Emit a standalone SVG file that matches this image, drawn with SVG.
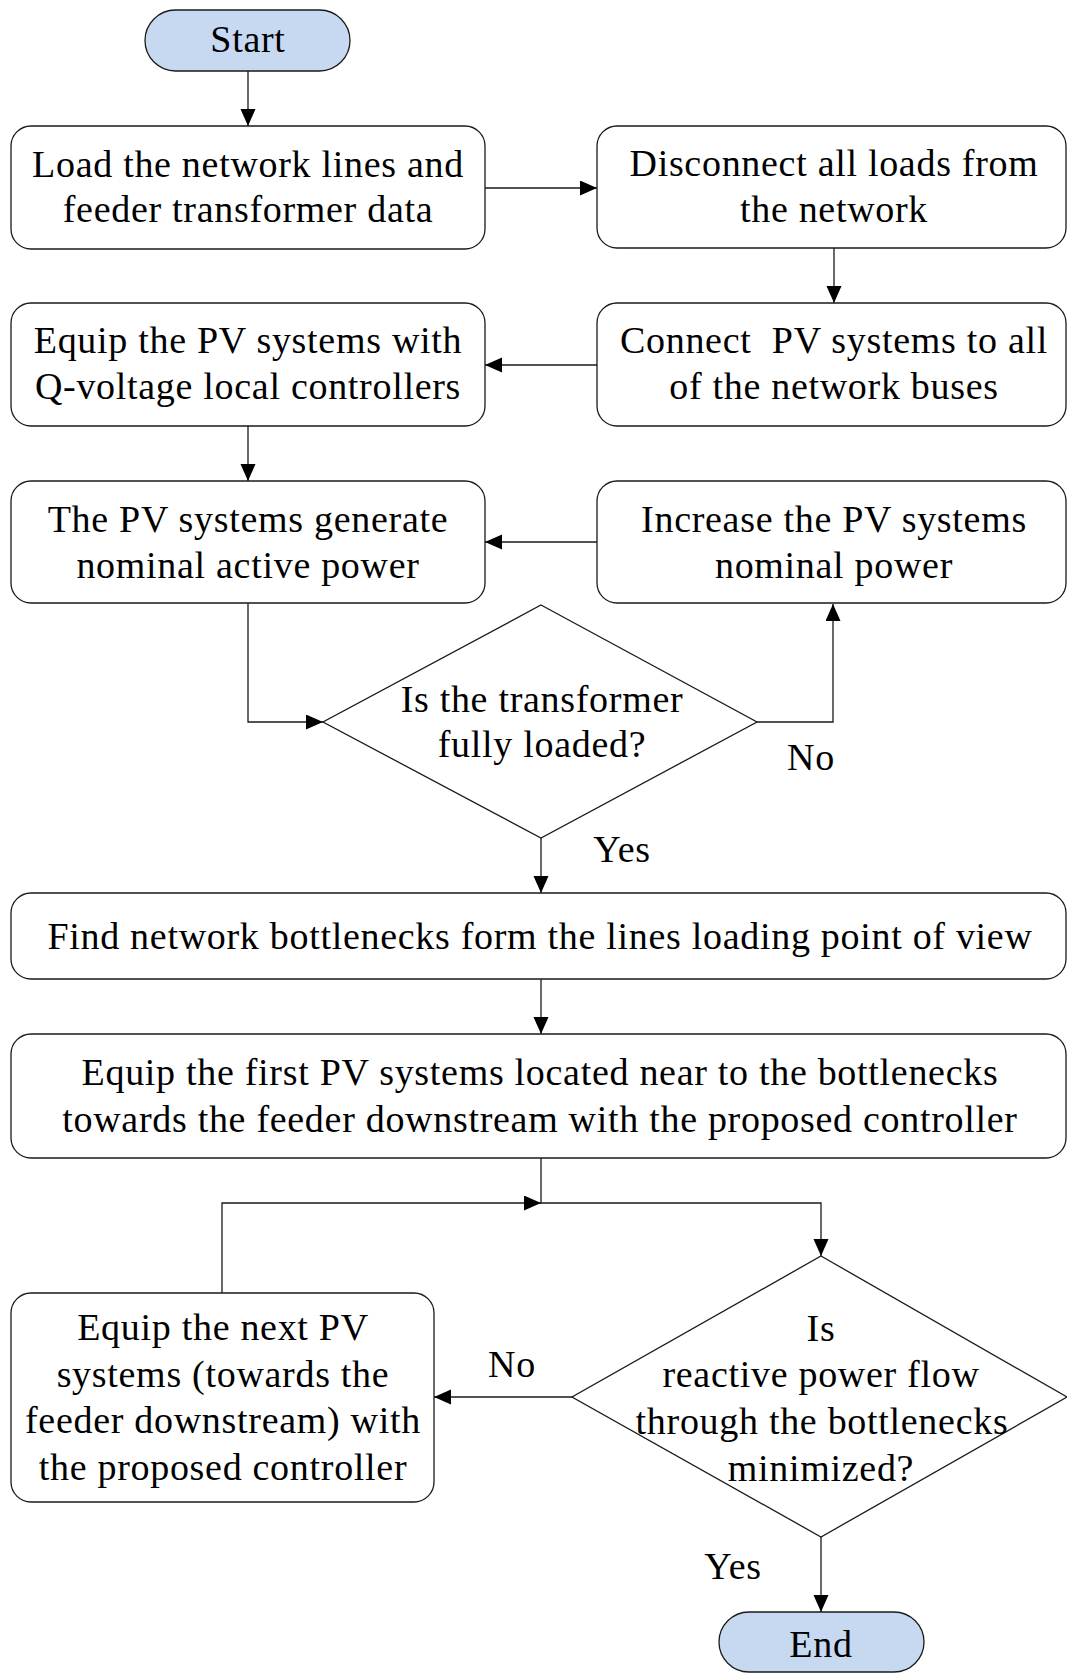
<svg xmlns="http://www.w3.org/2000/svg" width="1067" height="1673" viewBox="0 0 1067 1673">
  <defs>
    <style>
      .box { fill: #ffffff; stroke: #1a1a1a; stroke-width: 1.3; }
      .term { fill: #c6d9f0; stroke: #1a1a1a; stroke-width: 1.3; }
      .link { fill: none; stroke: #1a1a1a; stroke-width: 1.3; }
      text { font-family: "Liberation Serif", "Times New Roman", serif; font-size: 38px; fill: #000; text-anchor: middle; letter-spacing: 0.7px; }
    </style>
    <marker id="arrow" markerUnits="userSpaceOnUse" markerWidth="18" markerHeight="16" refX="17" refY="7.5" orient="auto">
      <path d="M0,0 L17,7.5 L0,15 z" fill="#000"/>
    </marker>
  </defs>
  <rect width="1067" height="1673" fill="#ffffff"/>

  <!-- connectors -->
  <g id="connectors">
    <path class="link" d="M248,71 V126" marker-end="url(#arrow)"/>
    <path class="link" d="M485,188 H597" marker-end="url(#arrow)"/>
    <path class="link" d="M834,248 V303" marker-end="url(#arrow)"/>
    <path class="link" d="M597,365 H485" marker-end="url(#arrow)"/>
    <path class="link" d="M248,426 V481" marker-end="url(#arrow)"/>
    <path class="link" d="M597,542 H485" marker-end="url(#arrow)"/>
    <path class="link" d="M248,603 V722 H323" marker-end="url(#arrow)"/>
    <path class="link" d="M757,722 H833 V604" marker-end="url(#arrow)"/>
    <path class="link" d="M541,838 V893" marker-end="url(#arrow)"/>
    <path class="link" d="M541,979 V1034" marker-end="url(#arrow)"/>
    <path class="link" d="M541,1158 V1203 H821 V1256" marker-end="url(#arrow)"/>
    <path class="link" d="M222,1293 V1203 H541" marker-end="url(#arrow)"/>
    <path class="link" d="M572,1397 H434" marker-end="url(#arrow)"/>
    <path class="link" d="M821,1537 V1612" marker-end="url(#arrow)"/>
    <text x="811" y="770">No</text>
    <text x="622" y="862">Yes</text>
    <text x="512" y="1377">No</text>
    <text x="733" y="1579">Yes</text>
  </g>

  <g id="start">
    <rect class="term" x="145" y="10" width="205" height="61" rx="30.5"/>
    <text x="248" y="52">Start</text>
  </g>

  <g id="load-data">
    <rect class="box" x="11" y="126" width="474" height="123" rx="20"/>
    <text x="248" y="177">Load the network lines and</text>
    <text x="248" y="222">feeder transformer data</text>
  </g>

  <g id="disconnect-loads">
    <rect class="box" x="597" y="126" width="469" height="122" rx="20"/>
    <text x="834" y="176">Disconnect all loads from</text>
    <text x="834" y="222">the network</text>
  </g>

  <g id="connect-pv">
    <rect class="box" x="597" y="303" width="469" height="123" rx="20"/>
    <text x="834" y="353" xml:space="preserve">Connect  PV systems to all</text>
    <text x="834" y="399">of the network buses</text>
  </g>

  <g id="equip-q-voltage">
    <rect class="box" x="11" y="303" width="474" height="123" rx="20"/>
    <text x="248" y="353">Equip the PV systems with</text>
    <text x="248" y="399">Q-voltage local controllers</text>
  </g>

  <g id="generate-power">
    <rect class="box" x="11" y="481" width="474" height="122" rx="20"/>
    <text x="248" y="532">The PV systems generate</text>
    <text x="248" y="578">nominal active power</text>
  </g>

  <g id="increase-power">
    <rect class="box" x="597" y="481" width="469" height="122" rx="20"/>
    <text x="834" y="532">Increase the PV systems</text>
    <text x="834" y="578">nominal power</text>
  </g>

  <g id="transformer-check">
    <polygon class="box" points="541,605 757,722 541,838 323,722"/>
    <text x="542" y="712">Is the transformer</text>
    <text x="542" y="757">fully loaded?</text>
  </g>

  <g id="find-bottlenecks">
    <rect class="box" x="11" y="893" width="1055" height="86" rx="20"/>
    <text x="540" y="949">Find network bottlenecks form the lines loading point of view</text>
  </g>

  <g id="equip-first">
    <rect class="box" x="11" y="1034" width="1055" height="124" rx="20"/>
    <text x="540" y="1085">Equip the first PV systems located near to the bottlenecks</text>
    <text x="540" y="1132">towards the feeder downstream with the proposed controller</text>
  </g>

  <g id="equip-next">
    <rect class="box" x="11" y="1293" width="423" height="209" rx="20"/>
    <text x="223" y="1340">Equip the next PV</text>
    <text x="223" y="1387">systems (towards the</text>
    <text x="223" y="1433">feeder downstream) with</text>
    <text x="223" y="1480">the proposed controller</text>
  </g>

  <g id="reactive-check">
    <polygon class="box" points="821,1256 1067,1397 821,1537 572,1397" style="fill:none"/>
    <text x="821" y="1341">Is</text>
    <text x="821" y="1387">reactive power flow</text>
    <text x="822" y="1434">through the bottlenecks</text>
    <text x="821" y="1481">minimized?</text>
  </g>

  <g id="end">
    <rect class="term" x="719" y="1612" width="205" height="60" rx="30"/>
    <text x="821" y="1657">End</text>
  </g>
</svg>
